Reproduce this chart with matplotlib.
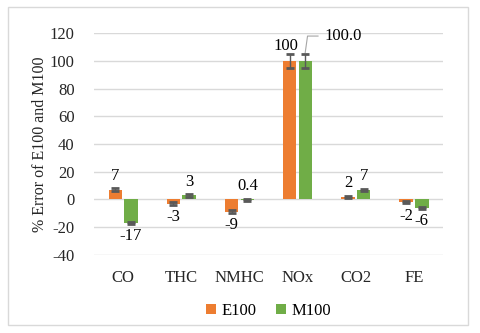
import matplotlib.pyplot as plt
import numpy as np
from matplotlib.patches import Rectangle

categories = ['CO', 'THC', 'NMHC', 'NOx', 'CO2', 'FE']
e100 = [7, -3, -9, 100, 2, -2]
m100 = [-17, 3, -0.4, 100, 7, -6]
e100_err = [1, 1, 1, 5, 0.8, 0.8]
m100_err = [1, 1, 0.5, 5, 0.8, 0.8]
e100_labels = ['7', '-3', '-9', '100', '2', '-2']
m100_labels = ['-17', '3', '0.4', '100.0', '7', '-6']


def main() -> None:
    plt.rcParams['font.family'] = ['Liberation Serif']
    plt.rcParams['axes.unicode_minus'] = False
    fig = plt.figure(figsize=(4.8, 3.33), dpi=100)
    ax = fig.add_axes([0.196, 0.235, 0.727, 0.665])
    fig.patches.append(Rectangle((0.017, 0.025), 0.958, 0.955, transform=fig.transFigure,
                                 fill=False, edgecolor='#D9D9D9', linewidth=1))

    x = np.arange(len(categories))
    w = 0.23
    ekw = dict(ecolor='#595959', capsize=3, elinewidth=1, capthick=2)
    ax.bar(x - 0.135, e100, w, color='#ED7D31', label='E100', zorder=2,
           yerr=e100_err, error_kw=ekw)
    ax.bar(x + 0.135, m100, w, color='#70AD47', label='M100', zorder=2,
           yerr=m100_err, error_kw=ekw)

    fs = 12
    for i in range(len(categories)):
        if i == 3:
            ax.text(x[i] - 0.2, e100[i] + 5, e100_labels[i], ha='center', va='bottom', fontsize=fs)
            ax.plot([x[i] + 0.13, x[i] + 0.17, x[i] + 0.35], [106, 118, 118],
                    color='#A6A6A6', lw=0.8)
            ax.text(x[i] + 0.46, 118, m100_labels[i], ha='left', va='center', fontsize=fs)
            continue
        for xi, v, lab in ((x[i] - 0.135, e100[i], e100_labels[i]),
                           (x[i] + 0.135, m100[i], m100_labels[i])):
            if v >= 0 or lab == '0.4':
                ax.text(xi, max(v, 0) + 4, lab, ha='center', va='bottom', fontsize=fs)
            else:
                ax.text(xi, v - 4, lab, ha='center', va='top', fontsize=fs)

    ax.set_ylim(-40, 120)
    ax.set_yticks(range(-40, 121, 20))
    ax.set_xlim(-0.5, 5.5)
    ax.set_xticks(x)
    ax.set_xticklabels(categories)
    ax.tick_params(axis='y', length=0, labelsize=fs, colors='#262626', pad=14)
    ax.tick_params(axis='x', length=0, labelsize=fs, colors='#262626', pad=11)
    ax.grid(axis='y', color='#D9D9D9', lw=1, zorder=0)
    ax.set_axisbelow(True)
    for s in ax.spines.values():
        s.set_visible(False)
    ax.set_ylabel('% Error of E100 and M100', fontsize=11.5, color='#262626', labelpad=1)

    ax.legend(loc='upper center', bbox_to_anchor=(0.5, -0.15), ncol=2, frameon=False,
              fontsize=fs, handlelength=0.6, handleheight=0.6, columnspacing=1.2, handletextpad=0.3)

    fig.savefig('out.png', dpi=100)


if __name__ == '__main__':
    main()
